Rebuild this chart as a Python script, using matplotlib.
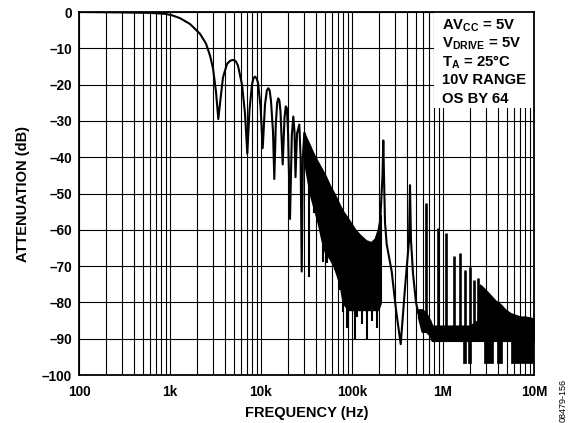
import numpy as np
import matplotlib
matplotlib.use("Agg")
import matplotlib.pyplot as plt
from matplotlib.patches import Rectangle

plt.rcParams["font.family"] = ["Liberation Sans", "DejaVu Sans"]
plt.rcParams["font.weight"] = "bold"
plt.rcParams["mathtext.fontset"] = "custom"
plt.rcParams["mathtext.rm"] = "Liberation Sans:bold"
plt.rcParams["mathtext.it"] = "Liberation Sans:bold"
plt.rcParams["mathtext.bf"] = "Liberation Sans:bold"

# main lobe and the first side lobes (Hz, dB)
main_freq = [100, 282, 603, 881, 1052, 1288, 1659, 2136, 2486, 2751, 2968, 3203,
             3395, 3588, 3823, 4230, 4600, 4962, 5300, 5588, 6183, 6672, 7071,
             7472, 7963, 8250, 8594, 8950, 9268, 9874, 10440, 11066, 11600,
             12030, 12450, 12880, 13550, 14000, 14540, 15050, 15490, 15950,
             16380, 17320, 18130, 18730, 19250, 19810, 20840, 21810, 22640,
             23340, 23940, 24870, 26360, 27240, 28010, 28860, 29910]
main_db = [0, -0.1, -0.25, -0.5, -0.9, -1.7, -3.3, -6.0, -8.7, -12, -15.5, -22,
           -29.5, -24, -18, -14.3, -13.4, -13.2, -13.6, -14.8, -20, -28, -39,
           -27, -20, -18.3, -17.8, -18.3, -19.5, -26, -37.5, -25.5, -21.6,
           -21, -21.6, -24.5, -33, -46, -31, -25, -23.8, -24.5,
           -27.5, -42, -29, -26, -26.5, -33, -57, -34, -28.8,
           -33, -45.5, -33.5, -31, -40, -71.5, -40, -33.4]

# dense side-lobe region: upper and lower edge
band_freq = [29910, 30440, 34560, 38230, 42300, 46800, 50500, 57300, 63400,
             73800, 79600, 90400, 107900, 122400, 142500, 161700, 178900,
             193100, 205700]
band_hi = [-33.4, -34, -37, -39.5, -41.5, -43.5, -45, -48, -50,
           -53.5, -55, -57, -60, -61.5, -63, -63.5, -62.5, -60, -56]
band_lo = [-38, -42, -50, -54, -58, -63, -66, -68, -70,
           -75, -80, -82, -82, -82, -82, -82, -82, -82, -80]

# nulls reaching below the dense region
null_freq = [33950, 38520, 48370, 52720, 65050, 73800, 79030, 87470, 91080,
             107900, 113500, 128800, 145000, 165900, 186800]
null_db = [-72.9, -55.4, -68.8, -69.2, -71, -76.6, -82.6, -87, -87.1,
           -90.4, -84, -86, -90.4, -85, -87]

# alias peak near the sample rate and the curve after it
tail_freq = [205700, 216400, 220800, 224700, 230500, 240600, 273200, 304400,
             342900, 382300, 423000, 433900, 445000, 468000, 505000, 535500]
tail_db = [-56, -45, -35.4, -45, -58, -64, -71.5, -82,
           -91.5, -76, -63, -47.7, -63, -72, -80, -83]

# noise floor above 500 kHz
floor_freq = [535500, 587800, 650500, 719500, 756900, 926800, 1194000, 1538000,
              1981000, 2425000, 2550000, 2894000, 3285000, 3727000, 4230000,
              4801000, 5450000, 6183000, 7020000, 7963000, 10000000]
floor_hi = [-82, -82, -83, -85, -86.5, -86.5, -86.5, -86.5,
            -86.5, -85, -75.2, -76.5, -78, -79.5, -80.5,
            -82, -83, -83.5, -84, -84, -84.5]
floor_lo = [-84, -88, -88, -89, -90.5, -90.5, -90.5, -90.5,
            -90.5, -90.5, -90.5, -90.5, -90.5, -90.5, -90.5,
            -90.5, -90.5, -90.5, -90.5, -90.5, -90.5]

# harmonics of the alias peak
spike_freq = [654000, 872000, 1090000, 1308000, 1526000, 1744000, 1962000,
              2180000, 2398000]
spike_db = [-52.7, -59.6, -61, -67.3, -66.3, -71, -70.3, -73.8, -73.4]

# deep noise blocks
deep_start = [1638000, 1906000, 2822000, 3872000, 5588000]
deep_end = [1812000, 2031000, 3544000, 4395000, 9750000]
deep_db = [-96.8, -96.8, -96.8, -96.8, -96.8]

legend_lines = [r"AV$_{\rm CC}$ = 5V", r"V$_{\rm DRIVE}$ = 5V", r"T$_{\rm A}$ = 25°C",
                "10V RANGE", "OS BY 64"]

fig = plt.figure(figsize=(5.76, 4.23), dpi=100)
ax = fig.add_axes([79 / 576, 1 - 375 / 423, 455 / 576, 363 / 423])

lw = 1.5
ax.plot(main_freq, main_db, color="black", lw=lw, zorder=3)
ax.fill_between(band_freq, band_lo, band_hi, color="black", lw=lw, zorder=3)
top = np.interp(np.log10(null_freq), np.log10(band_freq), band_lo)
ax.vlines(null_freq, null_db, top + 2, color="black", lw=lw, zorder=3)
ax.plot(tail_freq, tail_db, color="black", lw=lw, zorder=3)
ax.fill_between(floor_freq, floor_lo, floor_hi, color="black", lw=lw, zorder=3)
base = np.interp(np.log10(spike_freq), np.log10(floor_freq), floor_hi)
ax.vlines(spike_freq, base, spike_db, color="black", lw=lw + 0.4, zorder=3)
for s, e, d in zip(deep_start, deep_end, deep_db):
    ax.fill_between([s, e], [d, d], [-90, -90], color="black", lw=0.5, zorder=3)

ax.set_xscale("log")
ax.set_xlim(100, 1e7)
ax.set_ylim(-100, 0)
ax.set_yticks(np.arange(-100, 1, 10))
ax.set_xticks([1e2, 1e3, 1e4, 1e5, 1e6, 1e7])
ax.set_xticklabels(["100", "1k", "10k", "100k", "1M", "10M"])
ax.set_yticklabels([str(v).replace("-", "\u2013") for v in range(-100, 1, 10)])
ax.tick_params(which="both", length=0, labelsize=9.8)
ax.tick_params(axis="x", pad=7)
ax.tick_params(axis="y", pad=5)
ax.grid(True, which="both", color="black", lw=0.8)
for sp in ax.spines.values():
    sp.set_linewidth(1.3)

ax.add_patch(Rectangle((0.78, 0.735), 0.22, 0.265, transform=ax.transAxes,
                       facecolor="white", edgecolor="none", zorder=2.2))
for i, t in enumerate(legend_lines):
    ax.text(0.797, 0.963 - i * 0.0505, t, transform=ax.transAxes, fontsize=10.7,
            fontweight="bold", va="center", ha="left", zorder=4)

ax.set_xlabel("FREQUENCY (Hz)", fontsize=10.5, fontweight="bold", labelpad=5)
ax.set_ylabel("ATTENUATION (dB)", fontsize=10.5, fontweight="bold", labelpad=8.5)

fig.text(0.977, 0.003, "08479-156", rotation=90, va="bottom", ha="center",
         fontsize=6.5, fontweight="normal")

fig.savefig("out.png", dpi=100)
